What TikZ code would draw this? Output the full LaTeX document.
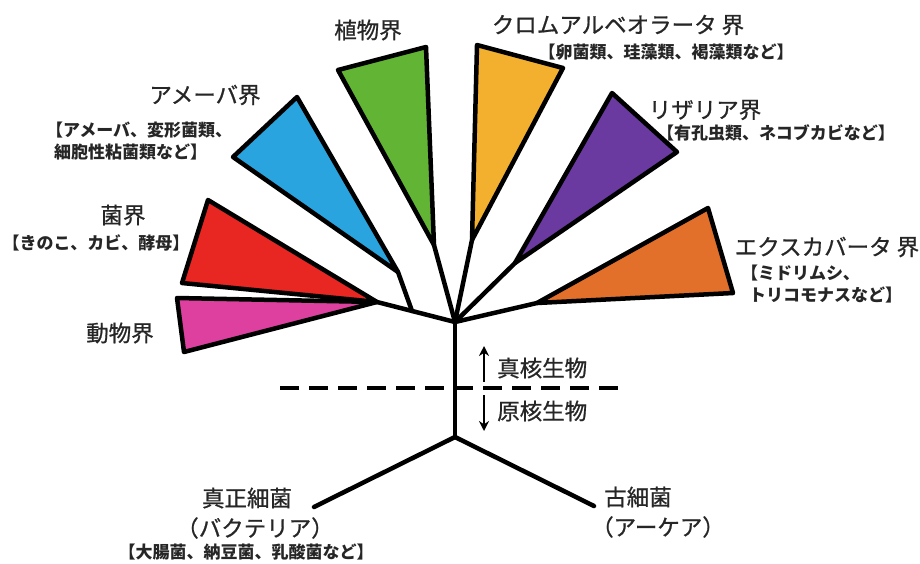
\documentclass[tikz,border=0pt]{standalone}
\usepackage{fontspec}
\setmainfont{Noto Sans CJK JP}
\newfontfamily\mainlbl[FakeBold=0.8]{Noto Sans CJK JP}
\usetikzlibrary{arrows.meta}
\definecolor{cgreen}{RGB}{98,180,52}
\definecolor{cblue}{RGB}{42,164,222}
\definecolor{cred}{RGB}{232,38,34}
\definecolor{cpink}{RGB}{222,64,160}
\definecolor{cyellow}{RGB}{242,176,46}
\definecolor{cpurple}{RGB}{106,58,160}
\definecolor{corange}{RGB}{226,112,42}
\tikzset{
  tri/.style={draw=black, line width=4.5pt, line join=round},
  branch/.style={draw=black, line width=4.5pt, line cap=round},
  main/.style={inner sep=0pt, text=black!85, font=\mainlbl\fontsize{22.5}{24}\selectfont},
  sub/.style={inner sep=0pt, text=black!85, font=\fontsize{17}{19}\selectfont\bfseries},
  arr/.style={line width=2.8pt, -{Stealth[length=10pt,width=10pt]}},
}
\begin{document}
\begin{tikzpicture}[x=1pt,y=-1pt]
\useasboundingbox (0,0) rectangle (920,563);
% tree points
\coordinate (hub) at (455,322);
\coordinate (root) at (455,437);
\coordinate (bac) at (314,507);
\coordinate (arc) at (594,506);
\coordinate (opi) at (377,302);
\coordinate (jn) at (412,311);
\coordinate (ame) at (398,272);
\coordinate (pla) at (434,245);
\coordinate (chr) at (472,240);
\coordinate (rhi) at (515,263);
\coordinate (exc) at (537,303);
% branches
\draw[branch] (root) -- (hub);
\draw[branch] (root) -- (bac);
\draw[branch] (root) -- (arc);
\draw[branch] (hub) -- (opi);
\draw[branch] (jn) -- (ame);
\draw[branch] (hub) -- (pla);
\draw[branch] (hub) -- (chr);
\draw[branch] (hub) -- (rhi);
\draw[branch] (hub) -- (exc);
% triangles
\filldraw[tri, fill=cgreen] (338,70) -- (426,47) -- (pla) -- cycle;
\filldraw[tri, fill=cyellow] (477,45) -- (563,68) -- (chr) -- cycle;
\filldraw[tri, fill=cpurple] (612,93) -- (677,152) -- (rhi) -- cycle;
\filldraw[tri, fill=corange] (708,208) -- (733,293) -- (exc) -- cycle;
\filldraw[tri, fill=cblue] (297,97) -- (233,157) -- (ame) -- cycle;
\filldraw[tri, fill=cpink] (177,298) -- (184,352) -- (opi) -- cycle;
\filldraw[tri, fill=cred] (208,200) -- (182,283) -- (opi) -- cycle;
% dashed divider
\coordinate (dl) at (280,388);
\coordinate (dr) at (623,388);
\draw[line width=4.5pt, dash pattern=on 19pt off 10pt] (dl) -- (dr);
% arrows
\coordinate (ua1) at (484,382);
\coordinate (ua2) at (484,346);
\coordinate (da1) at (484,395);
\coordinate (da2) at (484,431);
\draw[arr] (ua1) -- (ua2);
\draw[arr] (da1) -- (da2);
\node[main, anchor=west] (euk) at (497,368) {真核生物};
\node[main, anchor=west] (pro) at (497,411) {原核生物};
% labels
\node[main] (lpla) at (368,30) {植物界};
\node[main] (lchr) at (618,25) {クロムアルベオラータ 界};
\node[sub] (schr) at (666,52) {【卵菌類、珪藻類、褐藻類など】};
\node[main] (lrhi) at (705,110) {リザリア界};
\node[sub] (srhi) at (776,133) {【有孔虫類、ネコブカビなど】};
\node[main] (lexc) at (827,247) {エクスカバータ 界};
\node[sub, anchor=west] (sexc1) at (741,273) {【ミドリムシ、};
\node[sub, anchor=west] (sexc2) at (749,295) {トリコモナスなど】};
\node[main] (lame) at (205,95) {アメーバ界};
\node[sub, anchor=west] (same1) at (46,130) {【アメーバ、変形菌類、};
\node[sub, anchor=west] (same2) at (54,152) {細胞性粘菌類など】};
\node[main] (lfun) at (123,215) {菌界};
\node[sub] (sfun) at (96,243) {【きのこ、カビ、酵母】};
\node[main] (lani) at (120,333) {動物界};
\node[main] (lbac) at (247,498) {真正細菌};
\node[main] (lbac2) at (255,528) {（バクテリア）};
\node[sub] (sbac) at (246,552) {【大腸菌、納豆菌、乳酸菌など】};
\node[main] (larc) at (638,497) {古細菌};
\node[main] (larc2) at (658,527) {（アーケア）};
\end{tikzpicture}
\end{document}
